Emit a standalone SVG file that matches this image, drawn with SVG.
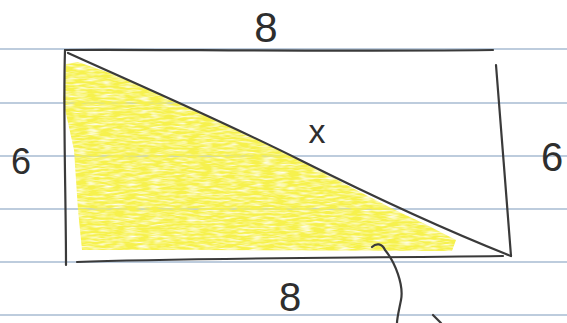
<svg xmlns="http://www.w3.org/2000/svg" width="567" height="323" viewBox="0 0 567 323">
<style>
.rule{stroke:#a7bbd2;stroke-width:1.6;fill:none}
.pen{stroke:#3a3a3a;stroke-width:2.2;fill:none;stroke-linecap:round;stroke-linejoin:round}
.hand{font-family:"Liberation Sans",Arial,sans-serif;fill:#2e2e2e}
</style>
<defs>
<filter id="crayon" x="0" y="0" width="1" height="1">
<feTurbulence type="fractalNoise" baseFrequency="0.08 0.5" numOctaves="2" seed="4" result="n"/>
<feColorMatrix in="n" type="matrix" values="0 0 0 0 0  0 0 0 0 0  0 0 0 0 0  0 0 0 -2 1.8" result="a"/>
<feComposite in="SourceGraphic" in2="a" operator="in"/>
</filter>
</defs>
<rect width="567" height="323" fill="#ffffff"/>
<g id="rules">
<line class="rule" x1="0" y1="49" x2="567" y2="49"/>
<line class="rule" x1="0" y1="103" x2="567" y2="103"/>
<line class="rule" x1="0" y1="156" x2="567" y2="156"/>
<line class="rule" x1="0" y1="209" x2="567" y2="209"/>
<line class="rule" x1="0" y1="262" x2="567" y2="262"/>
<line class="rule" x1="0" y1="315" x2="567" y2="315"/>
</g>
<g id="shading">
<polygon fill="#f6f14e" filter="url(#crayon)" points="66,64 78,62 130,80 200,112 250,136 300,160 360,192 395,210 425,224 456,240 452,251 200,250 82,250 78,210 74,150 63,100"/>
</g>
<g id="rectangle">
<path class="pen" d="M65,50 C63,110 66,200 66,265"/>
<path class="pen" d="M65,50 C150,49 300,52 493,50"/>
<path class="pen" d="M496,65 C500,120 507,200 511,256"/>
<path class="pen" d="M77,262 C180,258 350,258 503,256"/>
<path class="pen" d="M68,53 C150,90 220,120 300,160 C380,200 440,228 511,256"/>
</g>
<g id="labels">
<text class="hand" x="266" y="42" font-size="42" text-anchor="middle">8</text>
<text class="hand" x="290" y="311" font-size="40" text-anchor="middle">8</text>
<text class="hand" x="21" y="174" font-size="36" text-anchor="middle">6</text>
<text class="hand" x="552" y="171" font-size="40" text-anchor="middle">6</text>
<text class="hand" x="317" y="143" font-size="34" text-anchor="middle">x</text>
</g>
<g id="connectors">
<path class="pen" d="M372,247 C376,243 382,243 385,250 C395,262 404,285 401,300 C399,310 397,318 397,323"/>
<path class="pen" d="M433,315 L441,323"/>
</g>
</svg>
